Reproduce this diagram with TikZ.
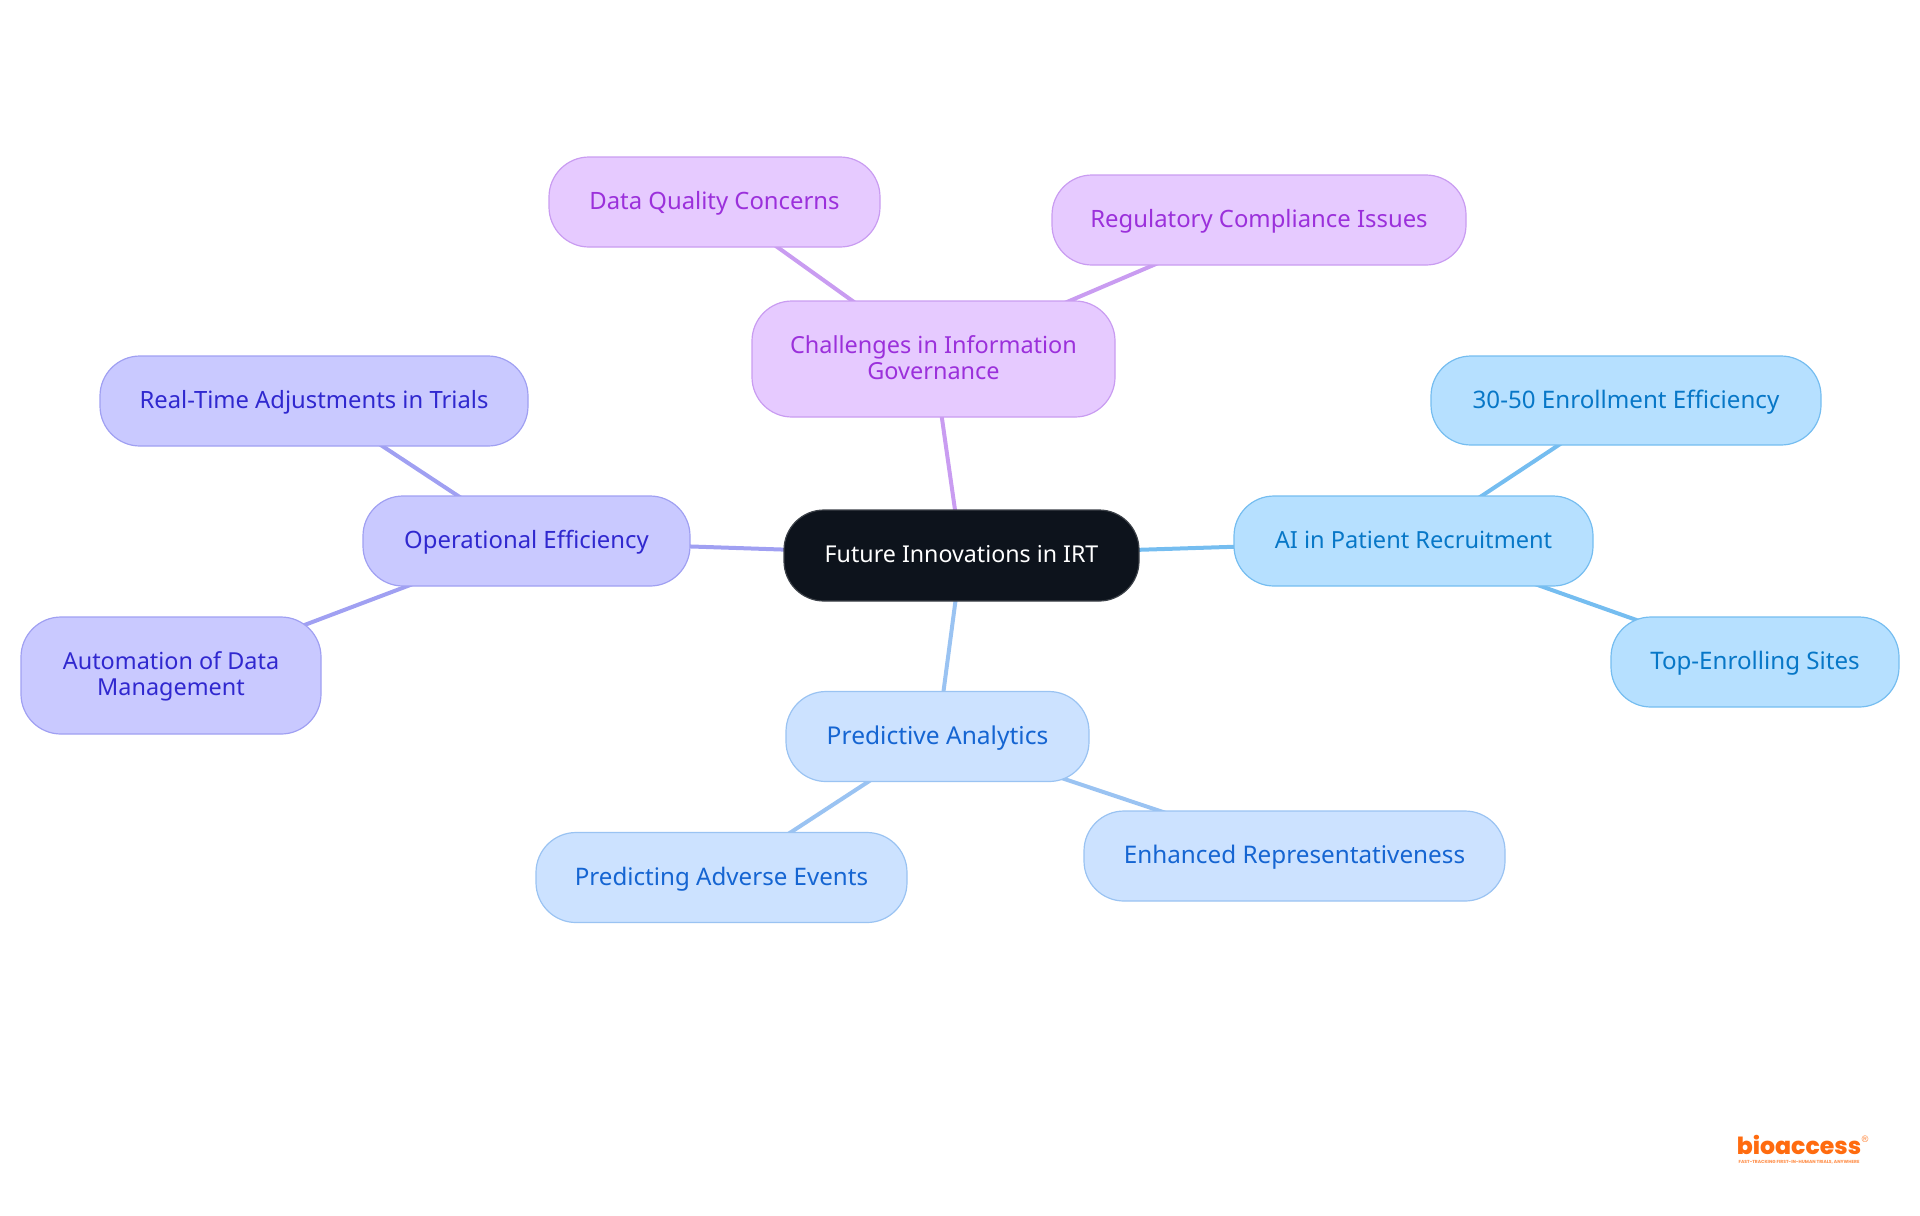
\documentclass[tikz,border=0pt]{standalone}
\usepackage{fontspec}
\setmainfont{Noto Sans}
\newfontfamily\logofont{Poppins}[UprightFont=* ExtraBold]
\usetikzlibrary{backgrounds}
\definecolor{purpF}{HTML}{E6CAFF}\definecolor{purpD}{HTML}{C99CF1}\definecolor{purpT}{HTML}{9B30DB}
\definecolor{indF}{HTML}{C9C9FF}\definecolor{indD}{HTML}{A0A0F2}\definecolor{indT}{HTML}{3028CF}
\definecolor{bluF}{HTML}{CCE2FF}\definecolor{bluD}{HTML}{9AC3F2}\definecolor{bluT}{HTML}{1565D2}
\definecolor{skyF}{HTML}{B6E0FF}\definecolor{skyD}{HTML}{75BDF0}\definecolor{skyT}{HTML}{0777C7}
\definecolor{rootF}{HTML}{0D131C}\definecolor{rootD}{HTML}{3C4148}\definecolor{logoC}{HTML}{FF6B0F}
\tikzset{
  x=0.75pt,y=-0.75pt,
  box/.style args={#1/#2}{rounded corners=30pt,align=center,inner sep=0pt,line width=0.9pt,
    text height=15.3pt,text depth=3.5pt,
    minimum width=#1*0.75pt,minimum height=#2*0.75pt},
  twolines/.style={text height=33.5pt},
  fs/.style={font=\fontsize{#1}{19.5}\selectfont},
  purpbox/.style={draw=purpD,fill=purpF,text=purpT},
  indbox/.style={draw=indD,fill=indF,text=indT},
  blubox/.style={draw=bluD,fill=bluF,text=bluT},
  skybox/.style={draw=skyD,fill=skyF,text=skyT},
  rootbox/.style={draw=rootD,fill=rootF,text=white,text height=13.5pt},
  link/.style={line width=3pt},
}
\begin{document}
\begin{tikzpicture}
\useasboundingbox (0,0) rectangle (1920,1215);
\node[box=355/91,rootbox,fs=17.4] (root) at (961.5,555.5) {Future Innovations in IRT};
\node[box=363/116,purpbox,fs=17.6,twolines] (chal) at (933.5,359) {Challenges in Information\\Governance};
\node[box=331/90,purpbox,fs=17.9] (dq) at (714.5,202) {Data Quality Concerns};
\node[box=414/90,purpbox,fs=17.9] (reg) at (1259,220) {Regulatory Compliance Issues};
\node[box=327/90,indbox,fs=17.9] (op) at (526.5,541) {Operational Efficiency};
\node[box=428/90,indbox,fs=17.85] (rt) at (314,401) {Real-Time Adjustments in Trials};
\node[box=300/117,indbox,fs=17.55,twolines] (auto) at (171,675.5) {Automation of Data\\Management};
\node[box=359/90,skybox,fs=17.7] (ai) at (1413.5,541) {AI in Patient Recruitment};
\node[box=390/89,skybox,fs=18.1] (eff) at (1626,400.5) {30-50 Enrollment Efficiency};
\node[box=288/90,skybox,fs=18.1] (top) at (1755,662) {Top-Enrolling Sites};
\node[box=303/90,blubox,fs=18.4] (pred) at (937.5,736.5) {Predictive Analytics};
\node[box=371/90,blubox,fs=18.1] (adv) at (721.5,877.5) {Predicting Adverse Events};
\node[box=421/90,blubox,fs=18.2] (rep) at (1294.5,856) {Enhanced Representativeness};
\begin{pgfonlayer}{background}
\draw[link,purpD] (root.center) -- (chal.center);
\draw[link,purpD] (chal.center) -- (dq.center);
\draw[link,purpD] (chal.center) -- (reg.center);
\draw[link,indD] (root.center) -- (op.center);
\draw[link,indD] (op.center) -- (rt.center);
\draw[link,indD] (op.center) -- (auto.center);
\draw[link,skyD] (root.center) -- (ai.center);
\draw[link,skyD] (ai.center) -- (eff.center);
\draw[link,skyD] (ai.center) -- (top.center);
\draw[link,bluD] (root.center) -- (pred.center);
\draw[link,bluD] (pred.center) -- (adv.center);
\draw[link,bluD] (pred.center) -- (rep.center);
\end{pgfonlayer}
\node[inner sep=0pt,text=logoC,font=\logofont\fontsize{17.7}{18}\selectfont] (logo) at (1799,1145) {bioaccess};
\node[inner sep=0pt,text=logoC,font=\sffamily\fontsize{7}{7}\selectfont] (regmark) at (1865,1139) {®};
\node[inner sep=0pt,text=logoC!70,font=\logofont\fontsize{3.3}{3.3}\selectfont] (tag) at (1799,1162) {FAST-TRACKING FIRST-IN-HUMAN TRIALS, ANYWHERE};
\end{tikzpicture}
\end{document}
